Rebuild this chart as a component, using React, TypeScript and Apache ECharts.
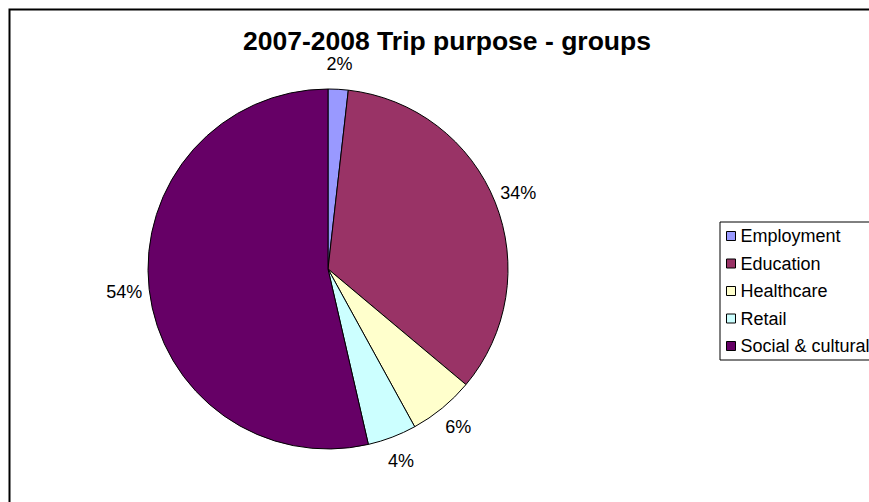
import React, { useEffect, useRef } from 'react';
import * as echarts from 'echarts';

const TITLE = '2007-2008 Trip purpose - groups';
const categories = ['Employment', 'Education', 'Healthcare', 'Retail', 'Social & cultural'];
const values = [1.8, 34.3, 5.9, 4.4, 53.6];
const colors = ['#9999FF', '#993366', '#FFFFCC', '#CCFFFF', '#660066'];

const FONT = '"Liberation Sans", Arial, sans-serif';

export default function App() {
  const ref = useRef<HTMLDivElement>(null);
  useEffect(() => {
    document.body.style.margin = '0';
    document.body.style.overflow = 'hidden';
    const chart = echarts.init(ref.current!, null, { renderer: 'svg' });
    chart.setOption({
      animation: false,
      backgroundColor: '#ffffff',
      color: colors,
      textStyle: { fontFamily: FONT },
      title: {
        text: TITLE,
        left: 243,
        top: 27,
        padding: 0,
        textStyle: { fontFamily: FONT, fontSize: 26.5, fontWeight: 'bold', color: '#000' },
      },
      legend: {
        orient: 'vertical',
        left: 720,
        top: 222,
        padding: [5, 10, 5, 6],
        borderColor: '#000',
        borderWidth: 1,
        itemGap: 9.5,
        itemWidth: 9,
        itemHeight: 9,
        icon: 'rect',
        align: 'left',
        itemStyle: { borderColor: '#000', borderWidth: 1 },
        textStyle: { fontFamily: FONT, fontSize: 18, color: '#000' },
        data: categories,
      },
      graphic: [
        {
          type: 'rect',
          shape: { x: 9.5, y: 9.5, width: 1400, height: 1400 },
          style: { fill: 'none', stroke: '#000', lineWidth: 2 },
          silent: true,
        },
      ],
      series: [
        {
          type: 'pie',
          center: [328, 269],
          radius: 180,
          startAngle: 90,
          clockwise: true,
          avoidLabelOverlap: false,
          itemStyle: { borderColor: '#000', borderWidth: 1 },
          emphasis: { disabled: true },
          label: {
            show: true,
            position: 'outside',
            distanceToLabelLine: 0,
            fontFamily: FONT,
            fontSize: 18,
            color: '#000',
            formatter: (p: any) => Math.round(p.percent) + '%',
          },
          labelLine: { show: false, length: 25, length2: 0 },
          labelLayout: () => ({ align: 'center', verticalAlign: 'middle' }),
          data: categories.map((name, i) => ({ name, value: values[i] })),
        },
      ],
    });
    return () => chart.dispose();
  }, []);
  return (
    <div style={{ width: 869, height: 502, overflow: 'hidden', background: '#fff' }}>
      <div ref={ref} style={{ width: 960, height: 502 }} />
    </div>
  );
}
